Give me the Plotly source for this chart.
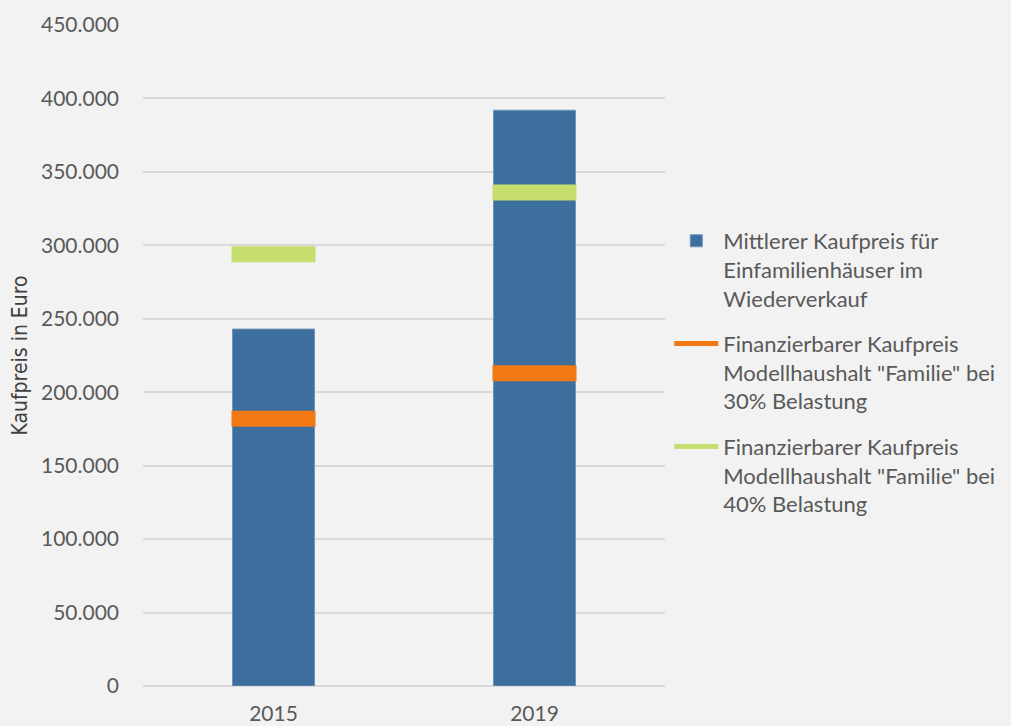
import plotly.graph_objects as go

years = ["2015", "2019"]
mittlerer_kaufpreis = [243000, 392000]
finanzierbar_30 = [182000, 213000]
finanzierbar_40 = [294000, 336000]

name_bar = "Mittlerer Kaufpreis für<br>Einfamilienhäuser im<br>Wiederverkauf"
name_30 = "Finanzierbarer Kaufpreis<br>Modellhaushalt \"Familie\" bei<br>30% Belastung"
name_40 = "Finanzierbarer Kaufpreis<br>Modellhaushalt \"Familie\" bei<br>40% Belastung"

c_blue = "#3C6E9E"
c_orange = "#F27813"
c_green = "#C5DE6E"
bg = "#F2F2F2"
txt = "#595959"
font_main = "Lato, 'Open Sans', sans-serif"

fig = go.Figure()
fig.add_trace(go.Bar(x=years, y=mittlerer_kaufpreis, name=name_bar,
                     marker=dict(color=c_blue, line=dict(color="#6E95BC", width=1)),
                     legendgroup="a"))
# legend proxies
fig.add_trace(go.Scatter(x=[None], y=[None], mode="lines", name=name_30,
                         line=dict(color=c_orange, width=5), legendgroup="b"))
fig.add_trace(go.Scatter(x=[None], y=[None], mode="lines", name=name_40,
                         line=dict(color=c_green, width=5), legendgroup="c"))
# dash markers
fig.add_trace(go.Scatter(x=years, y=finanzierbar_30, mode="markers", showlegend=False,
                         marker=dict(symbol="line-ew", size=60,
                                     line=dict(color=c_orange, width=16)),
                         legendgroup="b"))
fig.add_trace(go.Scatter(x=years, y=finanzierbar_40, mode="markers", showlegend=False,
                         marker=dict(symbol="line-ew", size=60,
                                     line=dict(color=c_green, width=16)),
                         legendgroup="c"))

fig.update_layout(
    width=1011, height=726,
    margin=dict(l=143, r=346, t=25, b=40),
    paper_bgcolor=bg, plot_bgcolor=bg,
    separators=",.",
    bargap=0.686,
    font=dict(family=font_main, color=txt, size=21),
    showlegend=True,
    legend=dict(xref="container", yref="container", x=0.662, y=0.697,
                xanchor="left", yanchor="top", valign="top",
                itemwidth=44,
                font=dict(family=font_main, size=22, color=txt),
                tracegroupgap=14, traceorder="grouped",
                bgcolor="rgba(0,0,0,0)"),
    hovermode=False,
)
fig.update_xaxes(type="category", showgrid=False, showline=False, ticks="",
                 ticklabelstandoff=13, automargin=False,
                 tickfont=dict(family=font_main, size=21, color=txt))
fig.update_yaxes(range=[0, 450000], dtick=50000, tickformat=",",
                 showgrid=True, gridcolor="#D9D9D9", gridwidth=1.5,
                 zeroline=True, zerolinecolor="#D9D9D9", zerolinewidth=1.5,
                 showline=False, ticks="", ticklabelstandoff=23, automargin=False,
                 tickfont=dict(family=font_main, size=21, color=txt),
                 title=dict(text="Kaufpreis in Euro", standoff=7,
                            font=dict(family="'Liberation Sans Narrow', 'DejaVu Sans Condensed', sans-serif",
                                      size=21, color="#404040")))

fig.write_html("out.html",
               config={"displayModeBar": False},
               post_script="document.body.style.margin='0';"
                           "document.body.style.overflow='hidden';"
                           "document.body.style.background='#F2F2F2';")
